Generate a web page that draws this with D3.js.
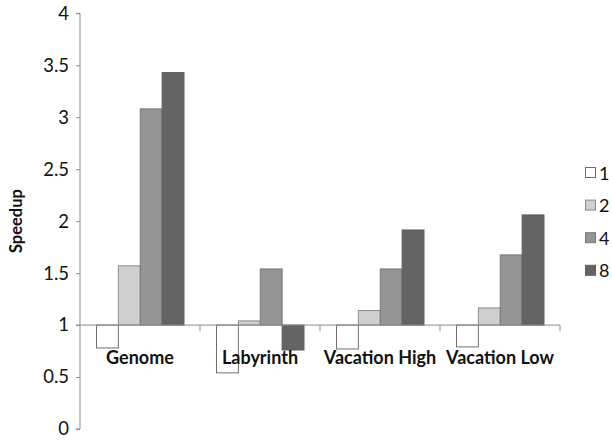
<!DOCTYPE html>
<html>
<head>
<meta charset="utf-8">
<script src="https://cdn.jsdelivr.net/npm/d3@7"></script>
<style>
  body { margin: 0; background: #fff; }
  text { font-family: Lato, "Open Sans", sans-serif; fill: #111; }
</style>
</head>
<body>
<div id="chart"></div>
<script>
// Data
const categories = ["Genome", "Labyrinth", "Vacation High", "Vacation Low"];
const seriesNames = ["1", "2", "4", "8"];
const speedup1 = [0.78, 0.54, 0.77, 0.79];
const speedup2 = [1.57, 1.04, 1.14, 1.165];
const speedup4 = [3.08, 1.54, 1.54, 1.675];
const speedup8 = [3.43, 0.76, 1.915, 2.06];
const yTicks = [0, 0.5, 1, 1.5, 2, 2.5, 3, 3.5, 4];

const seriesValues = [speedup1, speedup2, speedup4, speedup8];
const colors = ["#ffffff", "#cfcfcf", "#959595", "#646464"];
const strokes = ["#6e6e6e", "#8a8a8a", "#777777", "#5e5e5e"];

let WIDTH = 612, HEIGHT = 441;
let plotLeft = 80, plotRight = 560, plotTop = 13.3, plotBottom = 429;
const BASE = 1;

let svg = d3.select("#chart").append("svg")
    .attr("width", WIDTH)
    .attr("height", HEIGHT);

let xScale = d3.scaleBand().domain(categories).range([plotLeft, plotRight]).paddingInner(0).paddingOuter(0);
let innerScale = d3.scaleBand().domain(seriesNames).range([16.5, 104]);
let yScale = d3.scaleLinear().domain([0, 4]).range([plotBottom, plotTop]);

// y axis
let yAxis = svg.append("g")
    .attr("transform", `translate(${plotLeft},0)`)
    .call(d3.axisLeft(yScale).tickValues(yTicks).tickSize(4).tickPadding(7).tickFormat(d => d));
yAxis.selectAll("path, line").attr("stroke", "#8c8c8c");
yAxis.select(".domain").attr("d", `M-4,${plotTop}H0V${plotBottom}H-4`);
yAxis.selectAll("text").attr("font-size", 18.5).attr("font-family", "Lato, sans-serif").attr("fill", "#111");

// bars, drawn from the baseline at 1
categories.forEach((cat, i) => {
    seriesValues.forEach((vals, s) => {
        const v = vals[i];
        const y0 = yScale(BASE), y1 = yScale(v);
        svg.append("rect")
            .attr("x", xScale(cat) + innerScale(seriesNames[s]))
            .attr("width", innerScale.bandwidth())
            .attr("y", Math.min(y0, y1))
            .attr("height", Math.abs(y1 - y0))
            .attr("fill", colors[s])
            .attr("stroke", strokes[s])
            .attr("stroke-width", 1);
    });
});

// category axis along the baseline
let xAxis = svg.append("g")
    .attr("transform", `translate(0,${yScale(BASE)})`);
xAxis.append("line")
    .attr("x1", plotLeft - 4).attr("x2", plotRight)
    .attr("stroke", "#8c8c8c");
categories.forEach(cat => {
    xAxis.append("line")
        .attr("x1", xScale(cat) + xScale.bandwidth()).attr("x2", xScale(cat) + xScale.bandwidth())
        .attr("y1", 0).attr("y2", 6)
        .attr("stroke", "#8c8c8c");
    xAxis.append("text")
        .attr("x", xScale(cat) + xScale.bandwidth() / 2)
        .attr("y", 39)
        .attr("text-anchor", "middle")
        .attr("font-size", 18)
        .attr("font-weight", "bold")
        .text(cat);
});

// y title
svg.append("text")
    .attr("transform", `translate(22,${(plotTop + plotBottom) / 2}) rotate(-90)`)
    .attr("text-anchor", "middle")
    .attr("font-size", 16.5)
    .attr("font-weight", "bold")
    .text("Speedup");

// legend
let legend = svg.append("g");
seriesNames.forEach((name, s) => {
    const ly = 173 + s * 32.6;
    legend.append("rect")
        .attr("x", 585.5).attr("y", ly - 5.5)
        .attr("width", 10).attr("height", 10)
        .attr("fill", colors[s])
        .attr("stroke", strokes[s]);
    legend.append("text")
        .attr("x", 599).attr("y", ly + 6.5)
        .attr("font-size", 18)
        .text(name);
});
</script>
</body>
</html>
